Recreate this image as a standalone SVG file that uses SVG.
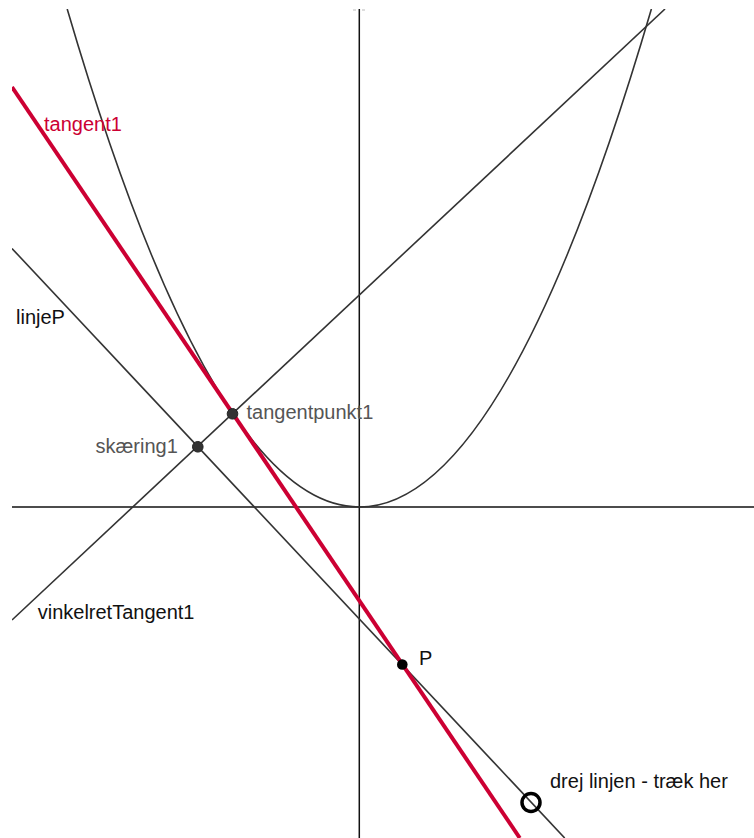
<svg xmlns="http://www.w3.org/2000/svg" width="754" height="838" viewBox="0 0 754 838">
<style>
.ln{fill:none;stroke:#333;stroke-width:1.6}
.ax{fill:none;stroke:#111;stroke-width:1.5}
.red{fill:none;stroke:#cc0033;stroke-width:4}
.t{font-family:"Liberation Sans",Arial,sans-serif;font-size:20px}
.dk{fill:#111}
.gr{fill:#555}
</style>
<defs>
<clipPath id="plot"><rect x="12" y="9" width="742" height="829"/></clipPath>
</defs>
<rect width="754" height="838" fill="#fff"/>
<g id="connectors" clip-path="url(#plot)">
<line id="xaxis" class="ax" x1="12" y1="507" x2="754" y2="507"/>
<line id="yaxis" class="ax" x1="359.3" y1="9" x2="359.3" y2="838"/>
<path id="parabola" class="ln" d="M67.2,9 Q359.3,1005 651.4,9"/>
<line id="vinkelretTangent1" class="ln" x1="12" y1="620" x2="665" y2="9"/>
<line id="linjeP" class="ln" x1="12" y1="248.5" x2="564.7" y2="838"/>
<line id="tangent1" class="red" x1="12" y1="87" x2="519.8" y2="838"/>
</g>
<g id="axis-tick">
<line x1="353" y1="10" x2="356" y2="10" stroke="#bbb" stroke-width="1"/>
<line x1="362" y1="10" x2="365" y2="10" stroke="#bbb" stroke-width="1"/>
</g>
<g id="node-tangentpunkt1">
<circle cx="232.5" cy="413.8" r="5.3" fill="#333" stroke="#222" stroke-width="1"/>
<text class="t gr" x="246.5" y="419.3">tangentpunkt1</text>
</g>
<g id="node-skaering1">
<circle cx="197.8" cy="446.8" r="5.3" fill="#333" stroke="#222" stroke-width="1"/>
<text class="t gr" x="95.5" y="453.3">skæring1</text>
</g>
<g id="node-P">
<circle cx="402.3" cy="664.5" r="5.3" fill="#000"/>
<text class="t dk" x="419" y="665">P</text>
</g>
<g id="node-drag">
<circle cx="531" cy="802.5" r="9" fill="none" stroke="#000" stroke-width="3.5"/>
<text class="t dk" x="550" y="788.3">drej linjen - træk her</text>
</g>
<g id="labels">
<text class="t" fill="#cc0033" x="44" y="131">tangent1</text>
<text class="t dk" x="16" y="324.3">linjeP</text>
<text class="t dk" x="37.7" y="619">vinkelretTangent1</text>
</g>
</svg>
